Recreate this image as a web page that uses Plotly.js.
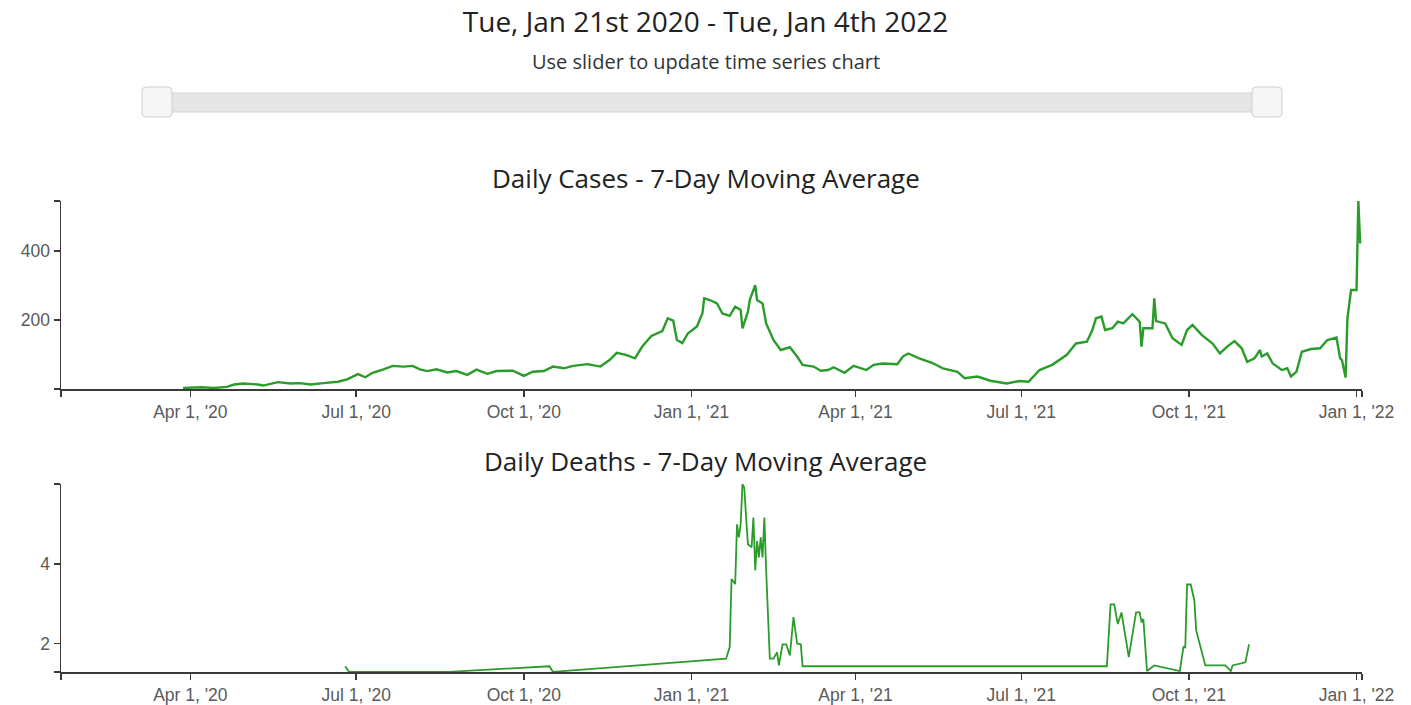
<!DOCTYPE html>
<html>
<head>
<meta charset="utf-8">
<script src="https://cdn.plot.ly/plotly-3.0.1.min.js"></script>
<style>html,body{margin:0;padding:0;background:#fff;}#chart{width:1411px;height:705px;}</style>
</head>
<body>
<div id="chart"></div>
<script>
// ---------- data ----------
const caseDates = ['2020-03-28','2020-04-07','2020-04-14','2020-04-21','2020-04-25','2020-04-30','2020-05-08','2020-05-11','2020-05-19','2020-05-26','2020-05-31','2020-06-06','2020-06-13','2020-06-21','2020-06-26','2020-07-02','2020-07-06','2020-07-10','2020-07-16','2020-07-21','2020-07-27','2020-08-01','2020-08-05','2020-08-09','2020-08-14','2020-08-20','2020-08-25','2020-08-31','2020-09-05','2020-09-11','2020-09-16','2020-09-25','2020-10-01','2020-10-06','2020-10-12','2020-10-17','2020-10-23','2020-10-28','2020-11-05','2020-11-12','2020-11-17','2020-11-21','2020-11-26','2020-12-01','2020-12-05','2020-12-10','2020-12-16','2020-12-19','2020-12-22','2020-12-24','2020-12-27','2020-12-30','2021-01-04','2021-01-07','2021-01-08','2021-01-11','2021-01-15','2021-01-18','2021-01-22','2021-01-25','2021-01-28','2021-01-29','2021-02-01','2021-02-02','2021-02-05','2021-02-06','2021-02-09','2021-02-11','2021-02-15','2021-02-19','2021-02-24','2021-02-28','2021-03-03','2021-03-09','2021-03-13','2021-03-17','2021-03-20','2021-03-26','2021-03-31','2021-04-07','2021-04-11','2021-04-16','2021-04-24','2021-04-27','2021-04-30','2021-05-06','2021-05-13','2021-05-19','2021-05-27','2021-05-31','2021-06-07','2021-06-14','2021-06-23','2021-06-30','2021-07-05','2021-07-11','2021-07-18','2021-07-26','2021-07-31','2021-08-06','2021-08-09','2021-08-11','2021-08-14','2021-08-16','2021-08-20','2021-08-23','2021-08-26','2021-08-31','2021-09-04','2021-09-05','2021-09-06','2021-09-11','2021-09-12','2021-09-13','2021-09-18','2021-09-22','2021-09-27','2021-09-30','2021-10-03','2021-10-08','2021-10-14','2021-10-18','2021-10-22','2021-10-26','2021-10-30','2021-11-02','2021-11-06','2021-11-09','2021-11-10','2021-11-13','2021-11-16','2021-11-21','2021-11-24','2021-11-26','2021-11-29','2021-12-02','2021-12-07','2021-12-12','2021-12-16','2021-12-21','2021-12-23','2021-12-24','2021-12-26','2021-12-27','2021-12-29','2022-01-01','2022-01-02','2022-01-03'];
const caseValues = [3,5,3,6,13,16,13,10,20,16,17,13,17,21,28,43,34,47,57,67,65,67,57,52,57,48,52,41,56,44,52,53,38,50,52,65,60,67,72,65,84,105,99,89,123,154,168,205,198,142,133,161,181,219,263,258,248,219,212,239,229,176,224,258,301,258,248,190,142,113,121,94,70,65,53,55,63,47,67,55,70,74,72,94,103,89,76,60,50,31,36,24,16,23,21,55,70,99,132,137,171,205,210,171,176,195,190,217,195,123,176,176,263,197,190,147,128,171,186,157,132,103,123,139,118,79,89,113,94,103,74,55,60,36,50,108,116,118,142,149,89,84,33,205,287,287,545,422];

const deathDates = ['2020-06-25','2020-06-27','2020-08-21','2020-10-15','2020-10-17','2021-01-20','2021-01-22','2021-01-23','2021-01-25','2021-01-26','2021-01-27','2021-01-28','2021-01-29','2021-01-30','2021-01-31','2021-02-01','2021-02-03','2021-02-04','2021-02-05','2021-02-06','2021-02-07','2021-02-08','2021-02-09','2021-02-10','2021-02-11','2021-02-12','2021-02-13','2021-02-15','2021-02-17','2021-02-18','2021-02-20','2021-02-22','2021-02-24','2021-02-26','2021-02-28','2021-03-02','2021-03-03','2021-08-17','2021-08-19','2021-08-21','2021-08-23','2021-08-25','2021-08-26','2021-08-29','2021-09-02','2021-09-04','2021-09-05','2021-09-06','2021-09-08','2021-09-12','2021-09-26','2021-09-28','2021-09-29','2021-09-30','2021-10-02','2021-10-04','2021-10-05','2021-10-10','2021-10-21','2021-10-24','2021-10-25','2021-11-01','2021-11-03'];
const deathValues = [1.43,1.29,1.29,1.43,1.29,1.62,1.91,3.62,3.49,4.99,4.66,5.0,6.0,5.9,5.16,4.49,4.41,5.16,3.83,4.57,4.16,4.66,4.16,5.16,3.83,2.66,1.62,1.62,1.78,1.45,1.98,1.98,1.7,2.66,2.0,1.98,1.43,1.43,2.98,2.98,2.49,2.78,2.5,1.66,2.78,2.78,2.53,2.62,1.31,1.45,1.31,1.91,1.9,3.48,3.48,3.08,2.33,1.45,1.45,1.31,1.45,1.53,1.98];

const dateRange = ['2020-01-21','2022-01-04'];
const xTickVals = ['2020-01-21','2020-04-01','2020-07-01','2020-10-01','2021-01-01','2021-04-01','2021-07-01','2021-10-01','2022-01-01','2022-01-04'];
const xTickText = ['',"Apr 1, '20","Jul 1, '20","Oct 1, '20","Jan 1, '21","Apr 1, '21","Jul 1, '21","Oct 1, '21","Jan 1, '22",''];
const caseRange = [0, 545];
const caseTickVals = [0, 200, 400, 545];
const caseTickText = ['', '200', '400', ''];
const deathRange = [9/7, 6];
const deathTickVals = [9/7, 2, 4, 6];
const deathTickText = ['', '2', '4', ''];

const mainTitle = 'Tue, Jan 21st 2020 - Tue, Jan 4th 2022';
const subTitle = 'Use slider to update time series chart';
const casesTitle = 'Daily Cases - 7-Day Moving Average';
const deathsTitle = 'Daily Deaths - 7-Day Moving Average';

// ---------- layout helpers ----------
const W = 1411, H = 705;
const px = x => x / W;
const py = y => 1 - y / H;
function roundRect(x0, y0, x1, y1, r) {
  const X0 = px(x0), X1 = px(x1), Y0 = py(y0), Y1 = py(y1);
  const rx = r / W, ry = r / H;
  return `M${X0+rx},${Y0} L${X1-rx},${Y0} Q${X1},${Y0} ${X1},${Y0-ry} L${X1},${Y1+ry} Q${X1},${Y1} ${X1-rx},${Y1} L${X0+rx},${Y1} Q${X0},${Y1} ${X0},${Y1+ry} L${X0},${Y0-ry} Q${X0},${Y0} ${X0+rx},${Y0} Z`;
}

const axisColor = '#3a3a3a';
const tickFont = {family: 'Liberation Sans, Arial, sans-serif', size: 17.5, color: '#5a5a5a'};
function xAxis(anchor) {
  return {domain: [px(61), px(1362)], anchor: anchor, type: 'date', range: dateRange,
    tickmode: 'array', tickvals: xTickVals, ticktext: xTickText,
    showline: true, linecolor: axisColor, linewidth: 1.5, ticks: 'outside', ticklen: 6,
    tickcolor: axisColor, tickwidth: 1.5, showgrid: false, zeroline: false, tickfont: tickFont, fixedrange: true};
}
function yAxis(anchor, dom, range, tv, tt) {
  return {domain: dom, anchor: anchor, range: range, tickmode: 'array', tickvals: tv, ticktext: tt,
    showline: true, linecolor: axisColor, linewidth: 1.5, ticks: 'outside', ticklen: 6,
    tickcolor: axisColor, tickwidth: 1.5, showgrid: false, zeroline: false, tickfont: tickFont, fixedrange: true};
}

const traces = [
  {x: caseDates, y: caseValues, type: 'scatter', mode: 'lines', xaxis: 'x', yaxis: 'y',
   line: {color: '#2a9c2a', width: 2.4}, hoverinfo: 'x+y'},
  {x: deathDates, y: deathValues, type: 'scatter', mode: 'lines', xaxis: 'x2', yaxis: 'y2',
   line: {color: '#2a9c2a', width: 1.8}, hoverinfo: 'x+y'}
];

const layout = {
  width: W, height: H, margin: {l: 0, r: 0, t: 0, b: 0},
  paper_bgcolor: '#fff', plot_bgcolor: '#fff', showlegend: false,
  title: {text: mainTitle, x: 0.5, xanchor: 'center', y: py(22), yanchor: 'middle',
          font: {family: 'Open Sans', size: 28, color: '#222'}},
  xaxis: xAxis('y'),
  yaxis: yAxis('x', [py(389), py(201)], caseRange, caseTickVals, caseTickText),
  xaxis2: xAxis('y2'),
  yaxis2: yAxis('x2', [py(672), py(484)], deathRange, deathTickVals, deathTickText),
  annotations: [
    {text: subTitle, xref: 'paper', yref: 'paper', x: 0.5, y: py(61), xanchor: 'center', yanchor: 'middle',
     showarrow: false, font: {family: 'Open Sans', size: 20, color: '#333'}},
    {text: casesTitle, xref: 'paper', yref: 'paper', x: 0.5, y: py(178), xanchor: 'center', yanchor: 'middle',
     showarrow: false, font: {family: 'Open Sans', size: 26, color: '#222'}},
    {text: deathsTitle, xref: 'paper', yref: 'paper', x: 0.5, y: py(461), xanchor: 'center', yanchor: 'middle',
     showarrow: false, font: {family: 'Open Sans', size: 26, color: '#222'}}
  ],
  shapes: [
    {type: 'rect', xref: 'paper', yref: 'paper', x0: px(160), x1: px(1265), y0: py(112), y1: py(93),
     fillcolor: '#e6e6e6', line: {color: '#d2d2d2', width: 1}, layer: 'above'},
    {type: 'path', xref: 'paper', yref: 'paper', path: roundRect(142, 87, 172, 117, 4),
     fillcolor: '#f6f6f6', line: {color: '#cfcfcf', width: 1}, layer: 'above'},
    {type: 'path', xref: 'paper', yref: 'paper', path: roundRect(1252, 87, 1282, 117, 4),
     fillcolor: '#f6f6f6', line: {color: '#cfcfcf', width: 1}, layer: 'above'}
  ]
};

Plotly.newPlot('chart', traces, layout, {displayModeBar: false, staticPlot: true});
</script>
</body>
</html>
